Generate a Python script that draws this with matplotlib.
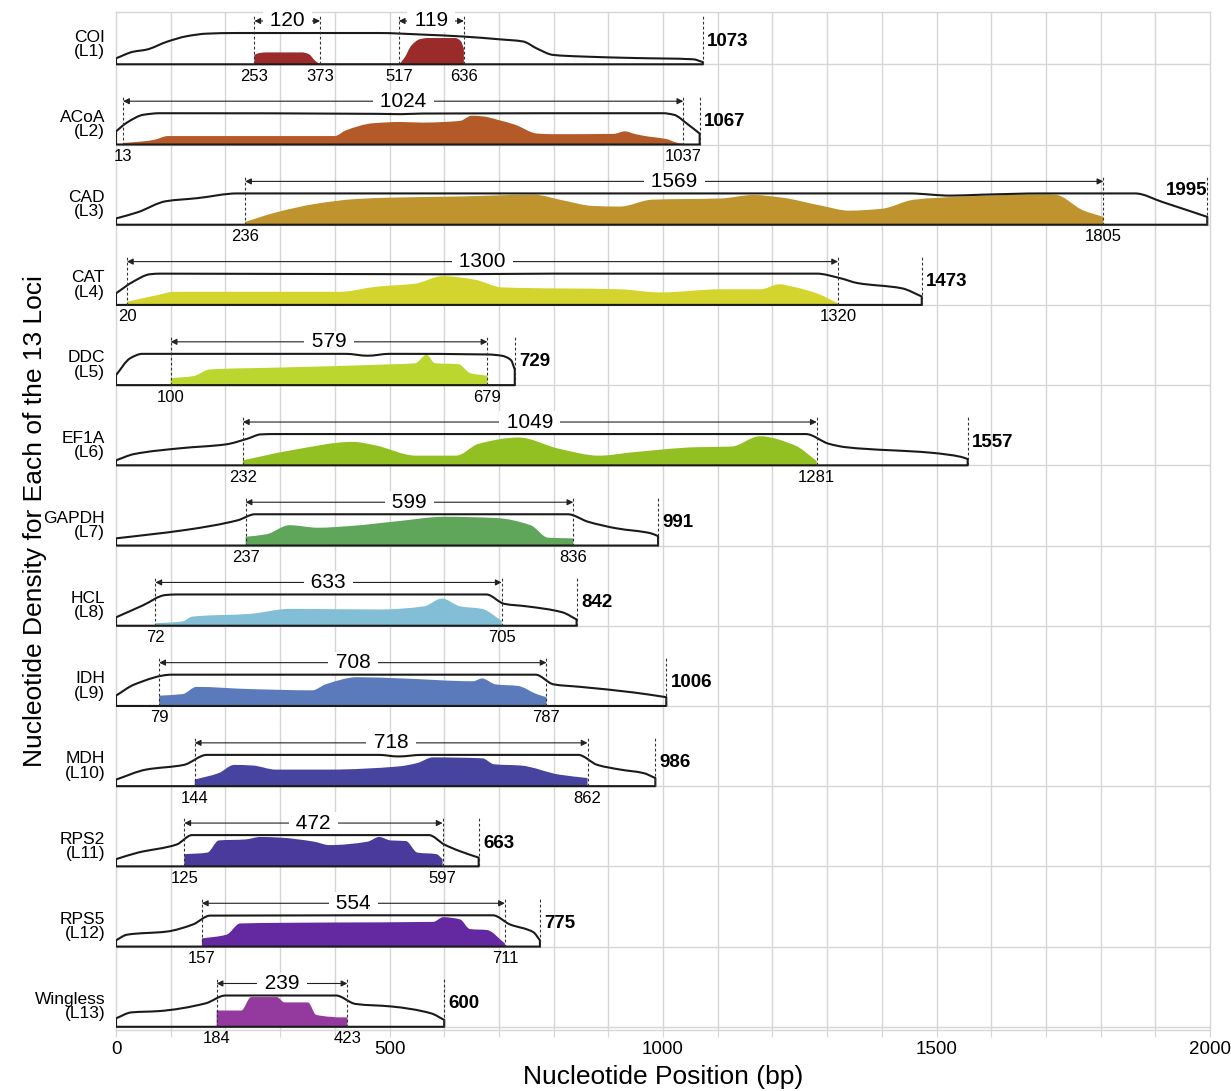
import matplotlib
matplotlib.use("Agg")
import matplotlib.pyplot as plt
from matplotlib.path import Path
from matplotlib.patches import PathPatch
from matplotlib.transforms import blended_transform_factory

plt.rcParams['font.family'] = ['Liberation Sans', 'DejaVu Sans']

# loci, top to bottom
names = ['COI', 'ACoA', 'CAD', 'CAT', 'DDC', 'EF1A', 'GAPDH', 'HCL', 'IDH',
         'MDH', 'RPS2', 'RPS5', 'Wingless']
lengths = [1073, 1067, 1995, 1473, 729, 1557, 991, 842, 1006, 986, 663, 775, 600]
regions = [[(253, 373), (517, 636)], [(13, 1037)], [(236, 1805)], [(20, 1320)],
           [(100, 679)], [(232, 1281)], [(237, 836)], [(72, 705)], [(79, 787)],
           [(144, 862)], [(125, 597)], [(157, 711)], [(184, 423)]]
colors = ['#9b2a2a', '#b35a28', '#bf942e', '#d4d42e', '#bcd630', '#92c022',
          '#5fa55a', '#82bed6', '#5b7abb', '#4744a0', '#4a3a9c', '#6429a0',
          '#943a9e']

# outline of the whole locus (height relative to plateau)
outline_x = [
    [0, 31, 56, 93, 130, 166, 220, 480, 560, 632, 700, 744, 770, 799, 850, 950, 1055, 1073],
    [0, 20, 50, 80, 480, 520, 560, 1000, 1020, 1045, 1067],
    [0, 40, 91, 149, 222, 1450, 1525, 1583, 1694, 1863, 1914, 1995],
    [0, 31, 62, 80, 600, 800, 1281, 1325, 1355, 1437, 1473],
    [0, 26, 48, 420, 460, 500, 680, 705, 722, 729],
    [0, 33, 120, 201, 240, 265, 290, 1261, 1303, 1334, 1492, 1545, 1557],
    [0, 60, 128, 223, 254, 826, 863, 915, 978, 991],
    [0, 49, 90, 110, 677, 710, 751, 816, 842],
    [0, 34, 102, 767, 800, 849, 947, 1006],
    [0, 55, 124, 166, 480, 516, 560, 845, 880, 922, 964, 986],
    [0, 40, 111, 139, 572, 600, 628, 663],
    [0, 20, 93, 141, 172, 689, 720, 763, 775],
    [0, 28, 77, 164, 200, 402, 438, 503, 576, 600],
]
outline_h = [
    [0.19, 0.4, 0.47, 0.72, 0.9, 0.98, 1.0, 1.0, 0.95, 0.89, 0.8, 0.73, 0.5, 0.3, 0.25, 0.2, 0.16, 0.07],
    [0.42, 0.7, 0.95, 1.0, 0.98, 0.97, 0.99, 1.0, 0.95, 0.65, 0.35],
    [0.2, 0.4, 0.75, 0.85, 1.0, 1.0, 0.93, 0.96, 1.0, 1.0, 0.72, 0.25],
    [0.37, 0.74, 0.98, 1.0, 0.98, 1.0, 1.0, 0.85, 0.7, 0.53, 0.27],
    [0.32, 0.86, 1.0, 1.0, 0.94, 1.0, 0.98, 0.94, 0.8, 0.5],
    [0.16, 0.36, 0.55, 0.67, 0.85, 0.99, 1.0, 1.0, 0.69, 0.58, 0.4, 0.27, 0.2],
    [0.23, 0.35, 0.5, 0.81, 1.0, 1.0, 0.76, 0.55, 0.39, 0.3],
    [0.27, 0.65, 0.98, 1.0, 1.0, 0.7, 0.62, 0.43, 0.2],
    [0.33, 0.69, 1.0, 1.0, 0.69, 0.61, 0.43, 0.28],
    [0.21, 0.53, 0.68, 1.0, 1.0, 0.95, 1.0, 1.0, 0.68, 0.53, 0.42, 0.26],
    [0.23, 0.44, 0.7, 1.0, 1.0, 0.7, 0.49, 0.28],
    [0.2, 0.38, 0.48, 0.71, 0.99, 1.0, 0.71, 0.46, 0.2],
    [0.27, 0.46, 0.5, 0.75, 1.0, 1.0, 0.73, 0.65, 0.43, 0.22],
]

# density of the selected region(s)
fill_x = [
    [253, 262, 275, 340, 352, 365, 373, 517, 527, 540, 555, 570, 620, 630, 636],
    [13, 50, 70, 95, 400, 420, 470, 520, 560, 600, 630, 650, 670, 700, 730, 770, 800, 910, 930, 950, 975, 1005, 1025, 1037],
    [236, 294, 366, 438, 511, 619, 764, 814, 872, 921, 980, 1106, 1165, 1216, 1289, 1340, 1400, 1459, 1547, 1694, 1717, 1768, 1805],
    [20, 77, 106, 410, 475, 547, 597, 655, 706, 921, 995, 1106, 1179, 1212, 1238, 1281, 1320],
    [100, 142, 171, 294, 511, 547, 568, 583, 626, 648, 679],
    [232, 317, 433, 474, 548, 622, 663, 736, 810, 883, 946, 1062, 1125, 1177, 1241, 1281],
    [237, 275, 317, 369, 432, 516, 600, 695, 758, 790, 836],
    [72, 122, 139, 245, 318, 482, 563, 596, 629, 669, 705],
    [79, 122, 147, 245, 359, 383, 441, 522, 653, 669, 694, 735, 769, 787],
    [144, 188, 216, 250, 292, 390, 516, 551, 579, 670, 691, 740, 810, 862],
    [125, 167, 188, 236, 264, 299, 362, 390, 460, 481, 502, 530, 551, 586, 597],
    [157, 202, 227, 397, 580, 598, 629, 647, 678, 711],
    [184, 229, 247, 294, 308, 351, 366, 417, 423],
]
fill_h = [
    [0.3, 0.36, 0.38, 0.38, 0.33, 0.1, 0.02, 0.02, 0.2, 0.6, 0.8, 0.84, 0.84, 0.75, 0.5],
    [0.05, 0.1, 0.15, 0.27, 0.27, 0.45, 0.68, 0.72, 0.7, 0.72, 0.76, 0.92, 0.9, 0.78, 0.63, 0.35, 0.33, 0.34, 0.42, 0.33, 0.25, 0.18, 0.06, 0.02],
    [0.09, 0.4, 0.67, 0.82, 0.87, 0.9, 0.96, 0.79, 0.6, 0.58, 0.8, 0.84, 0.95, 0.87, 0.61, 0.45, 0.51, 0.8, 0.9, 0.97, 0.96, 0.46, 0.25],
    [0.1, 0.32, 0.42, 0.42, 0.58, 0.68, 0.92, 0.81, 0.56, 0.5, 0.4, 0.5, 0.5, 0.66, 0.58, 0.37, 0.05],
    [0.22, 0.29, 0.5, 0.56, 0.67, 0.7, 0.97, 0.7, 0.67, 0.38, 0.3],
    [0.16, 0.47, 0.75, 0.64, 0.31, 0.31, 0.69, 0.89, 0.53, 0.31, 0.42, 0.58, 0.6, 0.93, 0.64, 0.14],
    [0.28, 0.36, 0.65, 0.57, 0.63, 0.78, 0.92, 0.88, 0.65, 0.25, 0.23],
    [0.08, 0.14, 0.29, 0.38, 0.54, 0.52, 0.62, 0.87, 0.62, 0.54, 0.16],
    [0.33, 0.38, 0.61, 0.54, 0.5, 0.69, 0.92, 0.88, 0.79, 0.88, 0.69, 0.64, 0.38, 0.28],
    [0.21, 0.42, 0.68, 0.66, 0.53, 0.53, 0.63, 0.74, 0.92, 0.89, 0.7, 0.66, 0.37, 0.26],
    [0.39, 0.44, 0.83, 0.86, 0.94, 0.92, 0.79, 0.68, 0.79, 0.94, 0.83, 0.81, 0.44, 0.39, 0.23],
    [0.26, 0.38, 0.74, 0.77, 0.79, 0.94, 0.87, 0.56, 0.53, 0.1],
    [0.52, 0.52, 0.95, 0.95, 0.78, 0.78, 0.38, 0.3, 0.3],
]

HSCALE = 0.39      # plateau height in row units
ARROW_Y = 0.54
DASH_TOP = 0.62


def smooth_curve(xs, ys):
    # monotone cubic (pchip-style) bezier segments through the points
    n = len(xs)
    d = [(ys[k + 1] - ys[k]) / (xs[k + 1] - xs[k]) for k in range(n - 1)]
    m = [d[0]] + [0.0] * (n - 2) + [d[-1]]
    for k in range(1, n - 1):
        if d[k - 1] * d[k] > 0:
            h0, h1 = xs[k] - xs[k - 1], xs[k + 1] - xs[k]
            w1, w2 = 2 * h1 + h0, h1 + 2 * h0
            m[k] = (w1 + w2) / (w1 / d[k - 1] + w2 / d[k])
    verts, codes = [], []
    for k in range(n - 1):
        dx = xs[k + 1] - xs[k]
        verts += [(xs[k] + dx / 3, ys[k] + m[k] * dx / 3),
                  (xs[k + 1] - dx / 3, ys[k + 1] - m[k + 1] * dx / 3),
                  (xs[k + 1], ys[k + 1])]
        codes += [Path.CURVE4] * 3
    return verts, codes


def closed_shape(xs, hs, base, x_end):
    ys = [base + h * HSCALE for h in hs]
    cv, cc = smooth_curve(xs, ys)
    verts = [(xs[0], base), (xs[0], ys[0])] + cv + [(x_end, base), (xs[0], base)]
    codes = [Path.MOVETO, Path.LINETO] + cc + [Path.LINETO, Path.LINETO]
    return Path(verts, codes)


fig = plt.figure(figsize=(12.31, 10.91), dpi=100)
ax = fig.add_axes([116 / 1231, 1 - 1030 / 1091, 1094 / 1231, 1018 / 1091])
n = len(names)
ax.set_xlim(0, 2000)
ax.set_ylim(-0.04, n - 1 + 0.652)

grid_c = '#d6d6d6'
for xv in range(100, 2000, 100):
    ax.axvline(xv, color=grid_c, lw=1, zorder=0)
for sp in ax.spines.values():
    sp.set_color(grid_c)
    sp.set_linewidth(1)

trans = blended_transform_factory(ax.transAxes, ax.transData)

for i in range(n):
    base = n - 1 - i
    L = lengths[i]
    ax.axhline(base, color=grid_c, lw=1, zorder=0)

    # coloured density
    fp = closed_shape(fill_x[i], fill_h[i], base, fill_x[i][-1])
    ax.add_patch(PathPatch(fp, facecolor=colors[i], edgecolor='none', zorder=2.8))

    # black outline
    op = closed_shape(outline_x[i], outline_h[i], base, L)
    ax.add_patch(PathPatch(op, facecolor='none', edgecolor='#1a1a1a', lw=1.5,
                           joinstyle='round', zorder=3))

    # region dimensions
    for s, e in regions[i]:
        for xv in (s, e):
            ax.plot([xv, xv], [base, base + DASH_TOP], color='#333333', lw=0.8,
                    ls=(0, (2.5, 2)), zorder=4)
            ax.text(xv, base - 0.15, str(xv), ha='center', va='center',
                    fontsize=12, zorder=5)
        ax.annotate('', xy=(s, base + ARROW_Y), xytext=(e, base + ARROW_Y),
                    arrowprops=dict(arrowstyle='<|-|>', mutation_scale=9,
                                    lw=0.8, color='#222222',
                                    shrinkA=0, shrinkB=0), zorder=2.5)
        ax.text((s + e) / 2, base + ARROW_Y, f" {e - s} ", ha='center',
                va='center', fontsize=15, zorder=2.6,
                bbox=dict(facecolor='white', edgecolor='none', pad=1))

    # full length marker
    ax.plot([L, L], [base, base + DASH_TOP], color='#333333', lw=0.8,
            ls=(0, (2.5, 2)), zorder=4)
    if L > 1900:
        ax.text(L, base + 0.43, str(L), ha='right', va='center',
                fontsize=13.5, fontweight='bold', zorder=5)
    else:
        ax.text(L + 8, base + 0.29, str(L), ha='left', va='center',
                fontsize=13.5, fontweight='bold', zorder=5)

    ax.text(-0.01, base + 0.25, f"{names[i]}\n(L{i + 1})", transform=trans,
            ha='right', va='center', linespacing=0.95, fontsize=12.5)

ax.set_xticks(range(0, 2001, 100))
ax.set_xticklabels([str(v) if v % 500 == 0 else '' for v in range(0, 2001, 100)],
                   fontsize=13.5)
ax.tick_params(axis='x', color=grid_c, length=5, pad=3)
ax.set_yticks([])
ax.set_xlabel('Nucleotide Position (bp)', fontsize=19, labelpad=5)
ax.set_ylabel('Nucleotide Density for Each of the 13 Loci', fontsize=19,
              labelpad=50)

fig.savefig('out.png', dpi=100)
